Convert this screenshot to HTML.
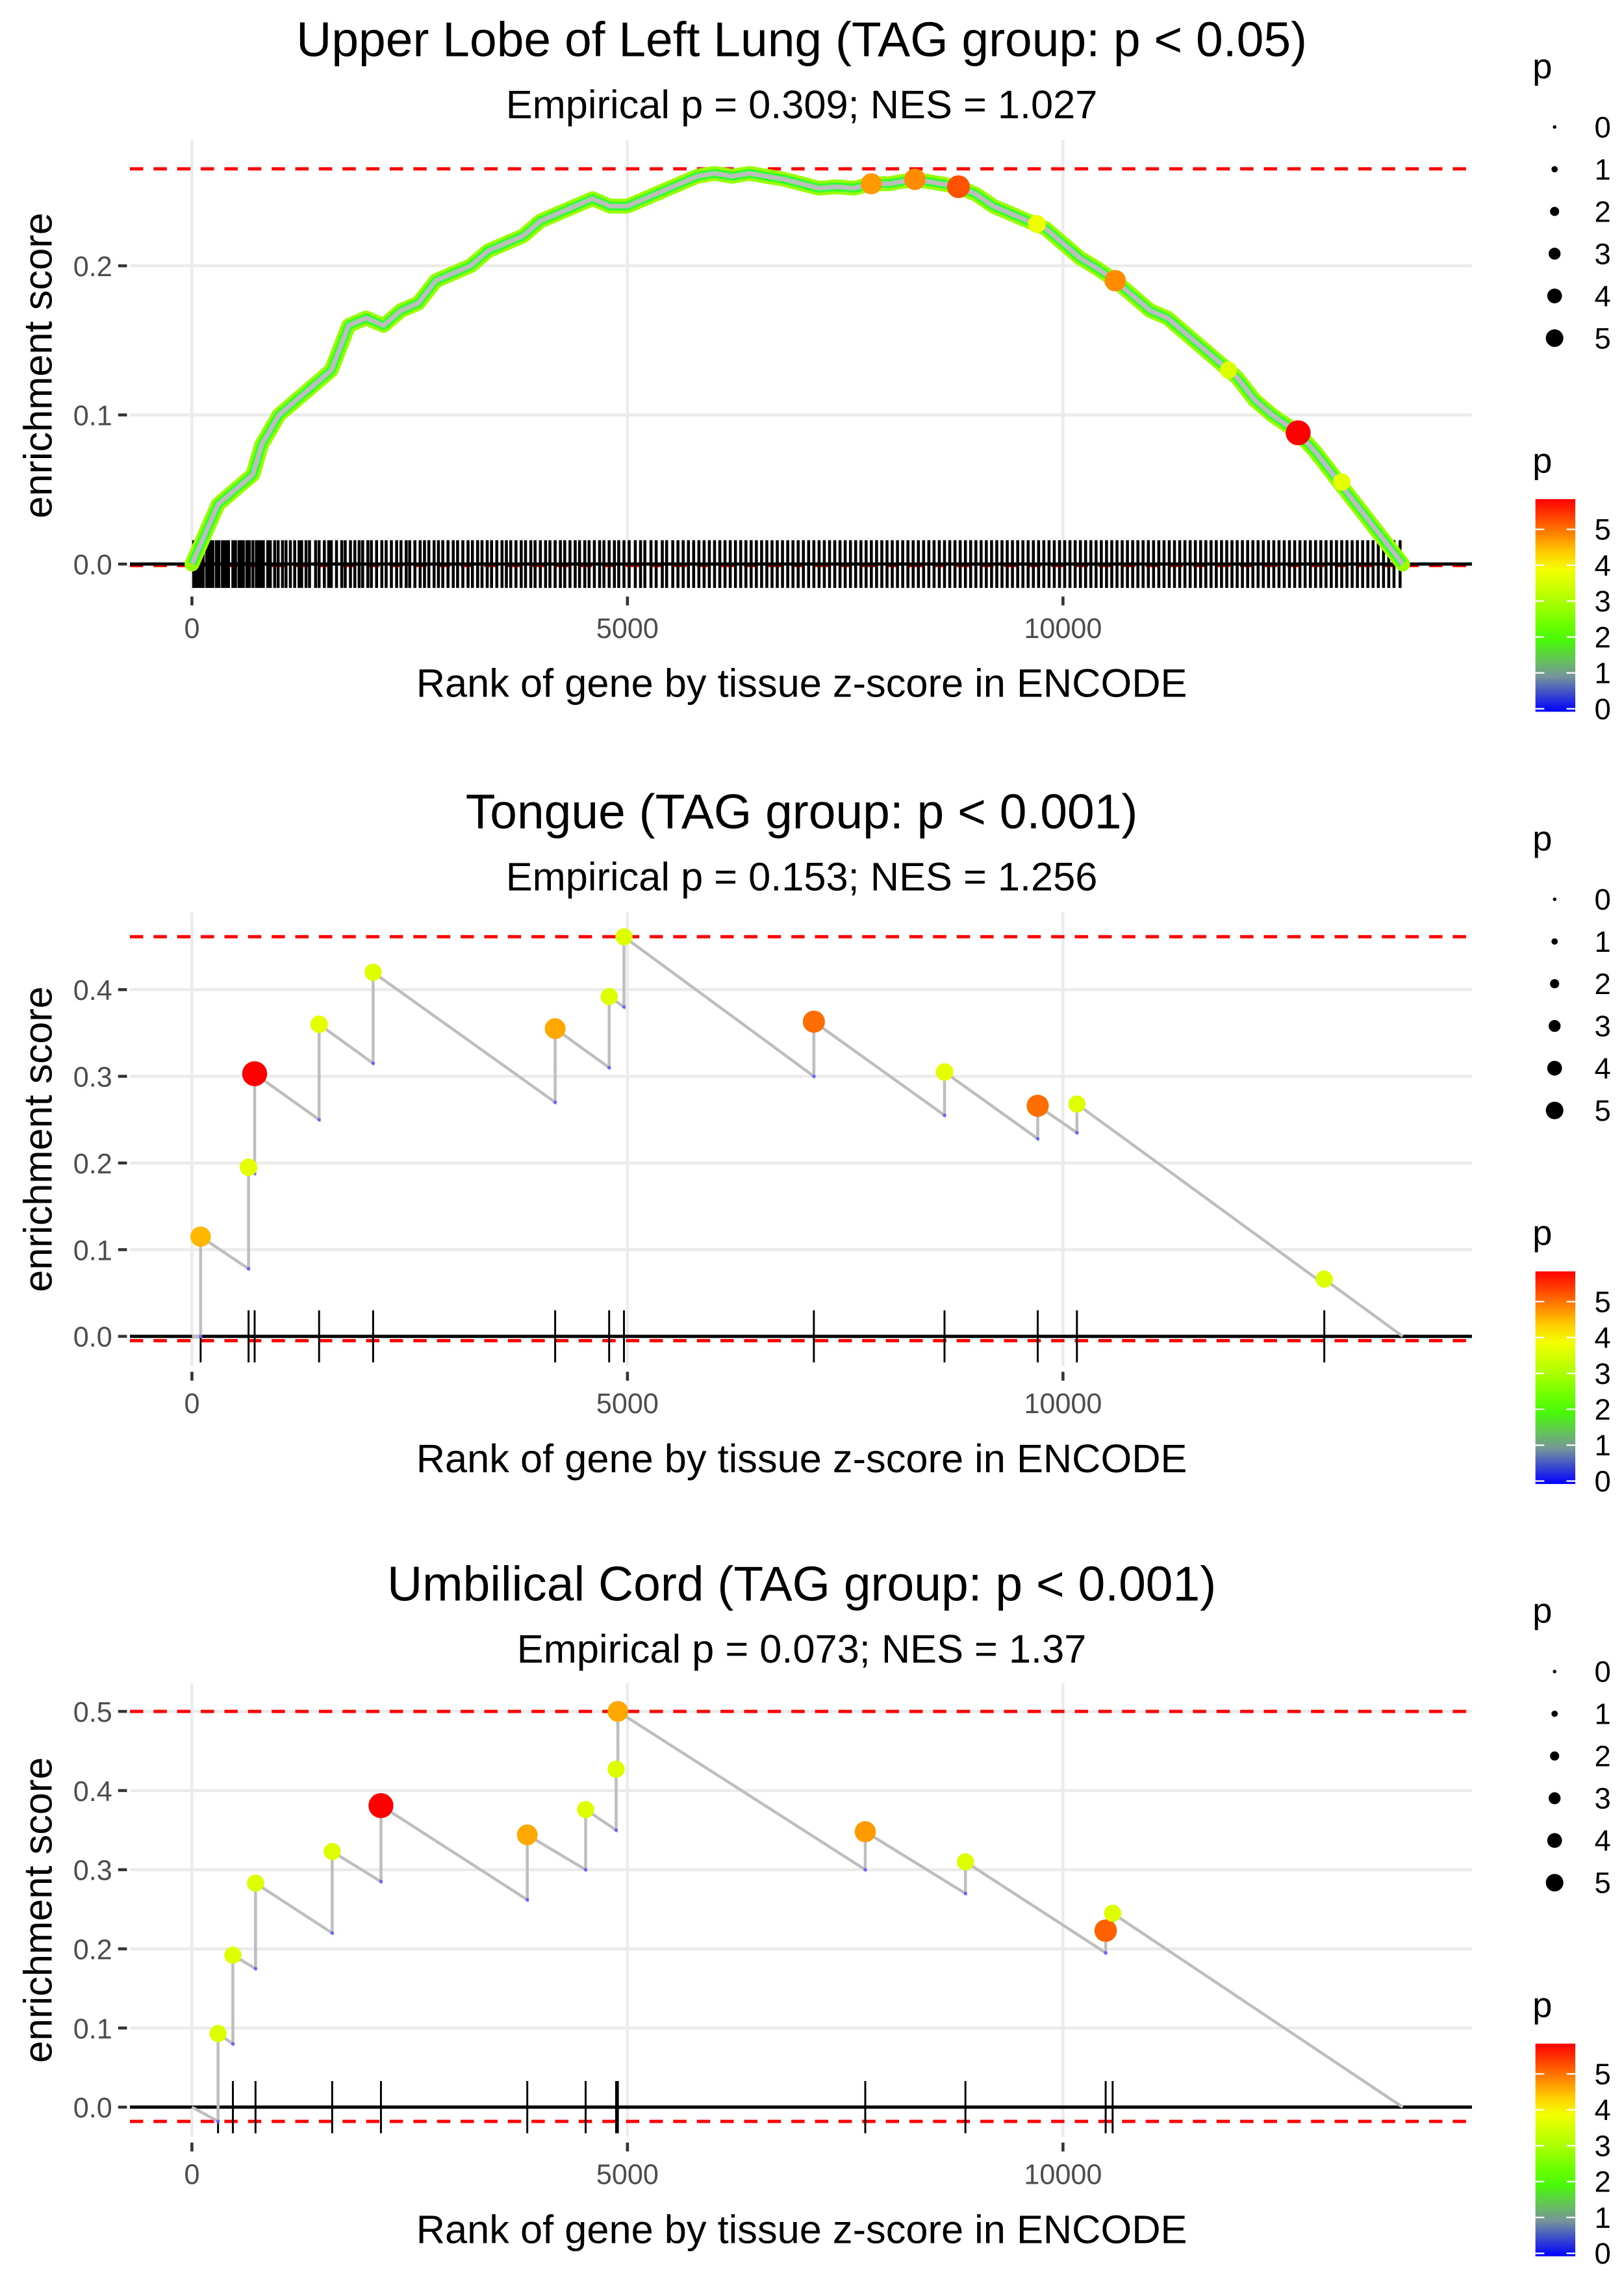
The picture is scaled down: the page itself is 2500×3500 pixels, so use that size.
<!DOCTYPE html>
<html><head><meta charset="utf-8"><style>
html,body{margin:0;padding:0;background:#fff}
svg{display:block}
text{font-family:"Liberation Sans",sans-serif}
</style></head><body>
<svg id="chart" width="2500" height="3500" viewBox="0 0 1100 1540" xmlns="http://www.w3.org/2000/svg"></svg>
<script>
// ---- Panel 1 data ----
const p1Ranks = [0,150,300,500,700,800,1000,1200,1400,1600,1800,2000,2200,2400,2600,2800,3000,3200,3400,3600,3800,4000,4200,4400,4600,4800,5000,5200,5400,5600,5800,6000,6200,6400,6600,6800,7000,7200,7400,7600,7800,8000,8300,8600,8800,9000,9200,9400,9600,9800,10000,10200,10400,10600,10800,11000,11200,11400,11600,11800,12000,12200,12400,12700,12900,13100,13300,13500,13700,13900];
const p1ES = [0,0.02,0.04,0.05,0.06,0.08,0.1,0.11,0.12,0.13,0.16,0.165,0.16,0.17,0.175,0.19,0.195,0.2,0.21,0.215,0.22,0.23,0.235,0.24,0.245,0.24,0.24,0.245,0.25,0.255,0.26,0.262,0.26,0.262,0.26,0.258,0.255,0.252,0.253,0.252,0.255,0.255,0.258,0.255,0.253,0.248,0.24,0.235,0.23,0.225,0.215,0.205,0.198,0.19,0.18,0.17,0.165,0.155,0.145,0.135,0.125,0.11,0.1,0.088,0.075,0.06,0.045,0.03,0.015,0];
const p1HiRanks = [7800,8300,8800,10600,12700,9700,11900,13200];
const p1HiES = [0.255,0.258,0.253,0.19,0.088,0.228,0.13,0.055];
const p1HiP = [4.7,4.8,5.2,4.8,5.8,3.8,3.6,3.7];
const p1Rug = [20,45,60,90,110,130,170,200,220,240,280,310,350,380,400,420,470,500,540,560,590,630,660,700,740,760,790,820,870,900,950,990,1040,1080,1130,1180,1230,1260,1310,1350,1420,1460,1520,1570,1600,1660,1720,1760,1820,1870,1920,1960,2020,2060,2120,2180,2230,2290,2350,2400,2460,2500,2560,2620,2670,2720,2780,2830,2880,2940,3000,3050,3110,3170,3220,3280,3330,3390,3440,3500,3560,3610,3660,3720,3780,3830,3890,3940,4000,4060,4110,4170,4230,4280,4340,4400,4450,4510,4560,4620,4680,4730,4790,4850,4900,4960,5020,5090,5150,5200,5270,5330,5400,5450,5520,5580,5640,5700,5760,5820,5880,5940,6000,6060,6120,6180,6240,6300,6360,6420,6480,6540,6600,6660,6720,6780,6840,6900,6960,7020,7080,7140,7200,7260,7320,7380,7440,7500,7560,7620,7680,7740,7800,7860,7920,7980,8040,8100,8160,8220,8280,8340,8400,8460,8520,8580,8640,8700,8760,8820,8880,8940,9000,9060,9120,9180,9240,9300,9360,9420,9480,9540,9600,9660,9720,9780,9840,9900,9960,10020,10080,10140,10200,10260,10320,10380,10440,10500,10560,10620,10680,10740,10800,10860,10920,10980,11040,11100,11160,11220,11280,11340,11400,11460,11520,11580,11640,11700,11760,11820,11880,11940,12000,12060,12120,12180,12240,12300,12360,12420,12480,12540,12600,12660,12720,12780,12840,12900,12960,13020,13080,13140,13200,13260,13320,13380,13440,13500,13560,13620,13680,13740,13800,13870];
// ---- Panel 2 data ----
const p2Ranks = [100,650,720,1460,2080,4170,4790,4960,7140,8640,9710,10160,13000];
const p2Peak = [0.115,0.195,0.303,0.36,0.42,0.355,0.392,0.461,0.363,0.305,0.266,0.268,0.066];
const p2Pre = [0,0.078,0.188,0.25,0.315,0.27,0.31,0.38,0.30,0.255,0.228,0.235,0.06];
const p2P = [4.5,3.7,5.8,3.7,3.6,4.6,3.6,3.6,5.0,3.7,5.0,3.6,3.6];
// ---- Panel 3 data ----
const p3Ranks = [300,470,730,1610,2170,3850,4520,4870,4890,7730,8880,10490,10570];
const p3Peak = [0.093,0.192,0.283,0.323,0.381,0.344,0.376,0.427,0.50,0.348,0.31,0.223,0.245];
const p3Pre = [-0.018,0.08,0.175,0.22,0.285,0.262,0.30,0.35,0.427,0.30,0.27,0.195,0.22];
const p3P = [3.6,3.6,3.6,3.6,5.8,4.6,3.6,3.6,4.6,4.7,3.6,5.1,3.6];
const xTicks = [0,5000,10000];
const xTickLabels = ["0","5000","10000"];

const NS = "http://www.w3.org/2000/svg";
const svg = document.getElementById("chart");
function mk(tag, attrs, parent){ const e=document.createElementNS(NS,tag); for(const k in attrs) e.setAttribute(k,attrs[k]); (parent||svg).appendChild(e); return e; }
function txt(s, attrs, parent){ const e=mk("text",attrs,parent); e.textContent=s; return e; }
function pColor(p){
  const stops=[[0,[0,0,255]],[1,[122,154,150]],[2,[68,255,0]],[3,[170,255,0]],[4,[255,255,0]],[5,[255,110,0]],[5.8,[255,0,0]]];
  if(p<=0) return "rgb(0,0,255)";
  for(let i=1;i<stops.length;i++){ if(p<=stops[i][0]){ const a=stops[i-1],b=stops[i],t=(p-a[0])/(b[0]-a[0]); const c=a[1].map((v,j)=>Math.round(v+(b[1][j]-v)*t)); return "rgb("+c.join(",")+")"; } }
  return "rgb(255,0,0)";
}
function pRad(p){ return 1.5 + p*1.2; }
const X = r => 130 + r*0.059;
const PL=88, PR=997;

function panel(cfg, idx){
  const g = mk("g",{});
  
  
  const Y = v => cfg.y0 - v*cfg.ys;
  cfg.yTicks.forEach((v,i)=>{
    const l=mk("line",{x1:PL,x2:PR,y1:Y(v),y2:Y(v),stroke:"#ebebeb","stroke-width":2},g);
    
    
    const t=txt(cfg.yLabels[i],{x:76,y:Y(v)+7,"text-anchor":"end","font-size":19,fill:"#4d4d4d"},g);
    
    
    mk("line",{x1:80,x2:86,y1:Y(v),y2:Y(v),stroke:"#333","stroke-width":2},g);
  });
  xTicks.forEach((r,i)=>{
    const l=mk("line",{x1:X(r),x2:X(r),y1:cfg.top,y2:cfg.bot,stroke:"#ebebeb","stroke-width":2},g);
    
    
    mk("line",{x1:X(r),x2:X(r),y1:cfg.bot+4,y2:cfg.bot+10,stroke:"#333","stroke-width":2},g);
    const t=txt(xTickLabels[i],{x:X(r),y:cfg.bot+32,"text-anchor":"middle","font-size":19,fill:"#4d4d4d"},g);
    
    
  });
  [cfg.maxES,cfg.minES].forEach(v=>{
    const l=mk("line",{x1:PL,x2:PR,y1:Y(v),y2:Y(v),stroke:"#ff0000","stroke-width":2.2,"stroke-dasharray":"9 7"},g);
    
    
  });
  cfg.rug.forEach(r=>{
    const l=mk("line",{x1:X(r),x2:X(r),y1:Y(cfg.rugH),y2:Y(-cfg.rugH),stroke:"#000","stroke-width":cfg.rugW},g);
    
    
  });
  const zl=mk("line",{x1:PL,x2:PR,y1:Y(0),y2:Y(0),stroke:"#000","stroke-width":2.2},g);
  
  
  cfg.draw(g,Y);
  const t1=txt(cfg.title,{x:543,y:cfg.titleY,"text-anchor":"middle","font-size":33,fill:"#000"},g);
  
  
  const t2=txt(cfg.sub,{x:543,y:cfg.titleY+42,"text-anchor":"middle","font-size":27,fill:"#000"},g);
  
  
  const yt=txt("enrichment score",{x:0,y:0,"text-anchor":"middle","font-size":27,fill:"#000",transform:"translate(35,"+((cfg.top+cfg.bot)/2)+") rotate(-90)"},g);
  
  
  const xt=txt("Rank of gene by tissue z-score in ENCODE",{x:543,y:cfg.bot+72,"text-anchor":"middle","font-size":27,fill:"#000"},g);
  
  
  const off=cfg.legOff;
  const lg=mk("g",{},g);
  
  
  txt("p",{x:1038,y:off+53,"font-size":24,fill:"#000"},lg);
  [0,1,2,3,4,5].forEach((v,i)=>{
    const c=mk("circle",{cx:1053,cy:off+86+i*28.6,r:1.2+v*0.95,fill:"#000"},lg);
    
    
    txt(String(v),{x:1080,y:off+93+i*28.6,"font-size":20,fill:"#000"},lg);
  });
  const cg=mk("g",{},g);
  
  
  txt("p",{x:1038,y:off+320,"font-size":24,fill:"#000"},cg);
  const gid="cb"+idx;
  const defs=mk("defs",{},cg);
  const lgd=mk("linearGradient",{id:gid,x1:0,y1:1,x2:0,y2:0},defs);
  for(let s=0;s<=12;s++){ const p=s*5.8/12; mk("stop",{offset:(s/12),"stop-color":pColor(p)},lgd); }
  const bar=mk("rect",{x:1040,y:off+338,width:27,height:144,fill:"url(#"+gid+")"},cg);
  
  
  [0,1,2,3,4,5].forEach(v=>{
    const yy=off+480-v*24.3;
    mk("line",{x1:1040,x2:1046,y1:yy,y2:yy,stroke:"#fff","stroke-width":1},cg);
    mk("line",{x1:1061,x2:1067,y1:yy,y2:yy,stroke:"#fff","stroke-width":1},cg);
    txt(String(v),{x:1080,y:yy+7,"font-size":20,fill:"#000"},cg);
  });
}

function stepDraw(ranks,peak,pre,ps,endRank){
  return function(g,Y){
    let d="M"+X(0)+","+Y(0);
    for(let i=0;i<ranks.length;i++){ d+=" L"+X(ranks[i])+","+Y(pre[i])+" L"+X(ranks[i])+","+Y(peak[i]); }
    d+=" L"+X(endRank)+","+Y(0);
    const p=mk("path",{d:d,fill:"none",stroke:"#bebebe","stroke-width":2},g);
    
    
    for(let i=0;i<ranks.length;i++){
      const v=mk("circle",{cx:X(ranks[i]),cy:Y(pre[i]),r:1.2,fill:"#66f"},g);
      
      
    }
    for(let i=0;i<ranks.length;i++){
      const c=mk("circle",{cx:X(ranks[i]),cy:Y(peak[i]),r:pRad(ps[i]),fill:pColor(ps[i])},g);
      
      
    }
  };
}

panel({y0:382,ys:1010,top:95,bot:400,yTicks:[0,0.1,0.2],yLabels:["0.0","0.1","0.2"],maxES:0.265,minES:-0.001,
  rug:p1Rug,rugH:0.016,rugW:2,titleY:38,legOff:0,
  title:"Upper Lobe of Left Lung (TAG group: p < 0.05)",sub:"Empirical p = 0.309; NES = 1.027",
  draw:function(g,Y){
    let d="";
    p1Ranks.forEach((r,i)=>{ d+=(i?" L":"M")+X(r)+","+Y(p1ES[i]); });
    const a=mk("path",{d:d,fill:"none",stroke:"#9f0","stroke-width":10,"stroke-linejoin":"round","stroke-linecap":"round"},g);
    
    
    const b=mk("path",{d:d,fill:"none",stroke:"#3f3","stroke-width":6,"stroke-linejoin":"round"},g);
    
    
    const c=mk("path",{d:d,fill:"none",stroke:"#bdbdbd","stroke-width":3,"stroke-linejoin":"round"},g);
    
    
    p1HiRanks.forEach((r,i)=>{
      const q=mk("circle",{cx:X(r),cy:Y(p1HiES[i]),r:pRad(p1HiP[i]),fill:pColor(p1HiP[i])},g);
      
      
    });
  }},1);

panel({y0:905,ys:587,top:618,bot:925,yTicks:[0,0.1,0.2,0.3,0.4],yLabels:["0.0","0.1","0.2","0.3","0.4"],maxES:0.461,minES:-0.005,
  rug:p2Ranks,rugH:0.03,rugW:1.3,titleY:561,legOff:523,
  title:"Tongue (TAG group: p < 0.001)",sub:"Empirical p = 0.153; NES = 1.256",
  draw:stepDraw(p2Ranks,p2Peak,p2Pre,p2P,13900)},2);

panel({y0:1427,ys:536,top:1140,bot:1447,yTicks:[0,0.1,0.2,0.3,0.4,0.5],yLabels:["0.0","0.1","0.2","0.3","0.4","0.5"],maxES:0.5,minES:-0.018,
  rug:p3Ranks,rugH:0.033,rugW:1.3,titleY:1084,legOff:1046,
  title:"Umbilical Cord (TAG group: p < 0.001)",sub:"Empirical p = 0.073; NES = 1.37",
  draw:stepDraw(p3Ranks,p3Peak,p3Pre,p3P,13900)},3);
</script>
</body></html>
